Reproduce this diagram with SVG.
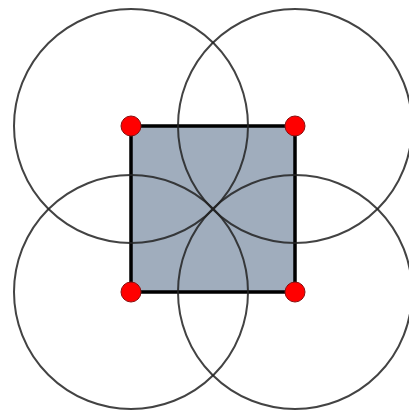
<svg xmlns="http://www.w3.org/2000/svg" width="409" height="414" viewBox="0 0 409 414">
<style>
.c{fill:none;stroke:#222;stroke-width:2;stroke-opacity:0.85}
.sq{fill:#a0adbd;stroke:#000;stroke-width:3.5}
.d{fill:#ff0000;stroke:#8a1010;stroke-width:1}
</style>
<rect width="409" height="414" fill="#fff"/>
<g id="square"><rect class="sq" x="131" y="126" width="164" height="166"/></g>
<g id="circles">
<circle class="c" cx="131" cy="126" r="117"/>
<circle class="c" cx="295" cy="126" r="117"/>
<circle class="c" cx="131" cy="292" r="117"/>
<circle class="c" cx="295" cy="292" r="117"/>
</g>
<g id="dots">
<circle class="d" cx="131" cy="126" r="10"/>
<circle class="d" cx="295" cy="126" r="10"/>
<circle class="d" cx="131" cy="292" r="10"/>
<circle class="d" cx="295" cy="292" r="10"/>
</g>
</svg>
